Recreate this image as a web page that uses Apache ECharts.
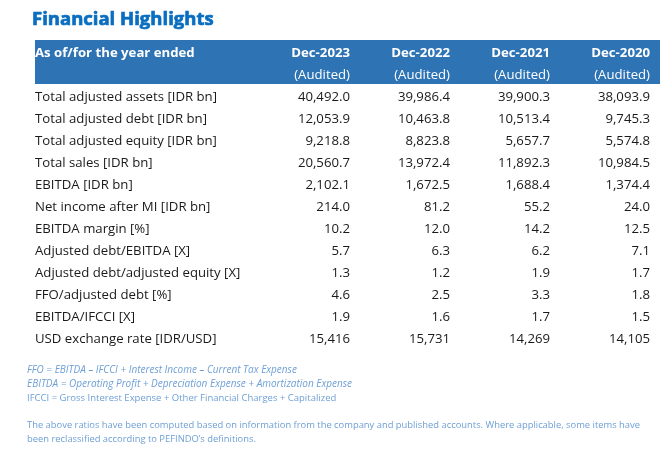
<!DOCTYPE html>
<html><head><meta charset="utf-8">
<script src="https://cdn.jsdelivr.net/npm/echarts@6/dist/echarts.min.js"></script>
<style>html,body{margin:0;padding:0;background:#fff}#c{width:670px;height:452px}</style>
</head><body><div id="c"></div>
<script>
const chartTitle = 'Financial Highlights';
const headerLabel = 'As of/for the year ended';
const periods = ['Dec-2023', 'Dec-2022', 'Dec-2021', 'Dec-2020'];
const auditStatus = ['(Audited)', '(Audited)', '(Audited)', '(Audited)'];
const metrics = [
  'Total adjusted assets [IDR bn]',
  'Total adjusted debt [IDR bn]',
  'Total adjusted equity [IDR bn]',
  'Total sales [IDR bn]',
  'EBITDA [IDR bn]',
  'Net income after MI [IDR bn]',
  'EBITDA margin [%]',
  'Adjusted debt/EBITDA [X]',
  'Adjusted debt/adjusted equity [X]',
  'FFO/adjusted debt [%]',
  'EBITDA/IFCCI [X]',
  'USD exchange rate [IDR/USD]'
];
const decimals = [1, 1, 1, 1, 1, 1, 1, 1, 1, 1, 1, 0];
const dec2023 = [40492.0, 12053.9, 9218.8, 20560.7, 2102.1, 214.0, 10.2, 5.7, 1.3, 4.6, 1.9, 15416];
const dec2022 = [39986.4, 10463.8, 8823.8, 13972.4, 1672.5, 81.2, 12.0, 6.3, 1.2, 2.5, 1.6, 15731];
const dec2021 = [39900.3, 10513.4, 5657.7, 11892.3, 1688.4, 55.2, 14.2, 6.2, 1.9, 3.3, 1.7, 14269];
const dec2020 = [38093.9, 9745.3, 5574.8, 10984.5, 1374.4, 24.0, 12.5, 7.1, 1.7, 1.8, 1.5, 14105];
const footnotes = [
  'FFO = EBITDA \u2013 IFCCI + Interest Income \u2013 Current Tax Expense',
  'EBITDA = Operating Profit + Depreciation Expense + Amortization Expense',
  'IFCCI = Gross Interest Expense + Other Financial Charges + Capitalized'
];
const disclaimer = [
  'The above ratios have been computed based on information from the company and published accounts. Where applicable, some items have',
  'been reclassified according to PEFINDO\u2019s definitions.'
];

const FONT = '"Open Sans", sans-serif';
const columns = [dec2023, dec2022, dec2021, dec2020];
const rowCats = ['h0', 'h1'].concat(metrics);
const colWidth = 100;
const rightPad = 10;
const textShift = 2.5;
const noteColor = '#6E9FD6';

function fmt(v, d) {
  return v.toLocaleString('en-US', { minimumFractionDigits: d, maximumFractionDigits: d });
}

const cellData = [];
metrics.forEach((m, r) => {
  cellData.push([-1, r + 2, m]);
  columns.forEach((col, c) => cellData.push([c, r + 2, fmt(col[r], decimals[r])]));
});
const headerData = [[-1, 0, headerLabel, 1]];
periods.forEach((p, c) => headerData.push([c, 0, p, 1]));
auditStatus.forEach((p, c) => headerData.push([c, 1, p, 0]));

function cellX(cs, c) {
  if (c < 0) return cs.x;
  return cs.x + cs.width - rightPad - (periods.length - 1 - c) * colWidth;
}

const chart = echarts.init(document.getElementById('c'), null, { renderer: 'canvas' });
chart.setOption({
  animation: false,
  backgroundColor: '#ffffff',
  title: {
    text: chartTitle, left: 27, top: 5,
    textStyle: {
      color: '#0A6EC0', fontSize: 18.5, fontWeight: 'bold', fontFamily: FONT,
      textBorderColor: '#0A6EC0', textBorderWidth: 0.7
    }
  },
  grid: { left: 35, right: 10, top: 40, height: rowCats.length * 22 },
  xAxis: { type: 'value', min: 0, max: 1, show: false },
  yAxis: { type: 'category', data: rowCats, inverse: true, show: false },
  series: [
    {
      type: 'custom',
      data: [[0, 0]],
      renderItem: function (params, api) {
        const cs = params.coordSys;
        const top = api.coord([0, 0])[1] - api.size([0, 1])[1] / 2;
        const h = api.size([0, 1])[1] * 2;
        return { type: 'rect', shape: { x: cs.x, y: top, width: cs.width, height: h }, style: { fill: '#2E74B5' } };
      }
    },
    {
      type: 'custom',
      data: headerData,
      renderItem: function (params, api) {
        const cs = params.coordSys;
        const c = api.value(0);
        const y = api.coord([0, api.value(1)])[1] + textShift;
        const d = headerData[params.dataIndex];
        return {
          type: 'text',
          style: {
            x: cellX(cs, c), y: y,
            text: d[2], fill: '#ffffff',
            font: (d[3] ? 'bold ' : '') + '13.2px ' + FONT,
            align: c < 0 ? 'left' : 'right', verticalAlign: 'middle'
          }
        };
      }
    },
    {
      type: 'custom',
      data: cellData,
      renderItem: function (params, api) {
        const cs = params.coordSys;
        const c = api.value(0);
        const y = api.coord([0, api.value(1)])[1] + textShift;
        const d = cellData[params.dataIndex];
        return {
          type: 'text',
          style: {
            x: cellX(cs, c), y: y,
            text: d[2], fill: '#1a1a1a',
            font: '13.2px ' + FONT,
            align: c < 0 ? 'left' : 'right', verticalAlign: 'middle'
          }
        };
      }
    }
  ],
  graphic: [
    { type: 'text', left: 27, top: 365, style: { text: footnotes[0], fill: noteColor, font: 'italic 10px ' + FONT } },
    { type: 'text', left: 27, top: 379, style: { text: footnotes[1], fill: noteColor, font: 'italic 10px ' + FONT } },
    { type: 'text', left: 27, top: 393, style: { text: footnotes[2], fill: noteColor, font: '9.5px ' + FONT } },
    { type: 'text', left: 27, top: 421, style: { text: disclaimer[0], fill: noteColor, font: '9.4px ' + FONT } },
    { type: 'text', left: 27, top: 435, style: { text: disclaimer[1], fill: noteColor, font: '9.4px ' + FONT } }
  ]
});
</script></body></html>
